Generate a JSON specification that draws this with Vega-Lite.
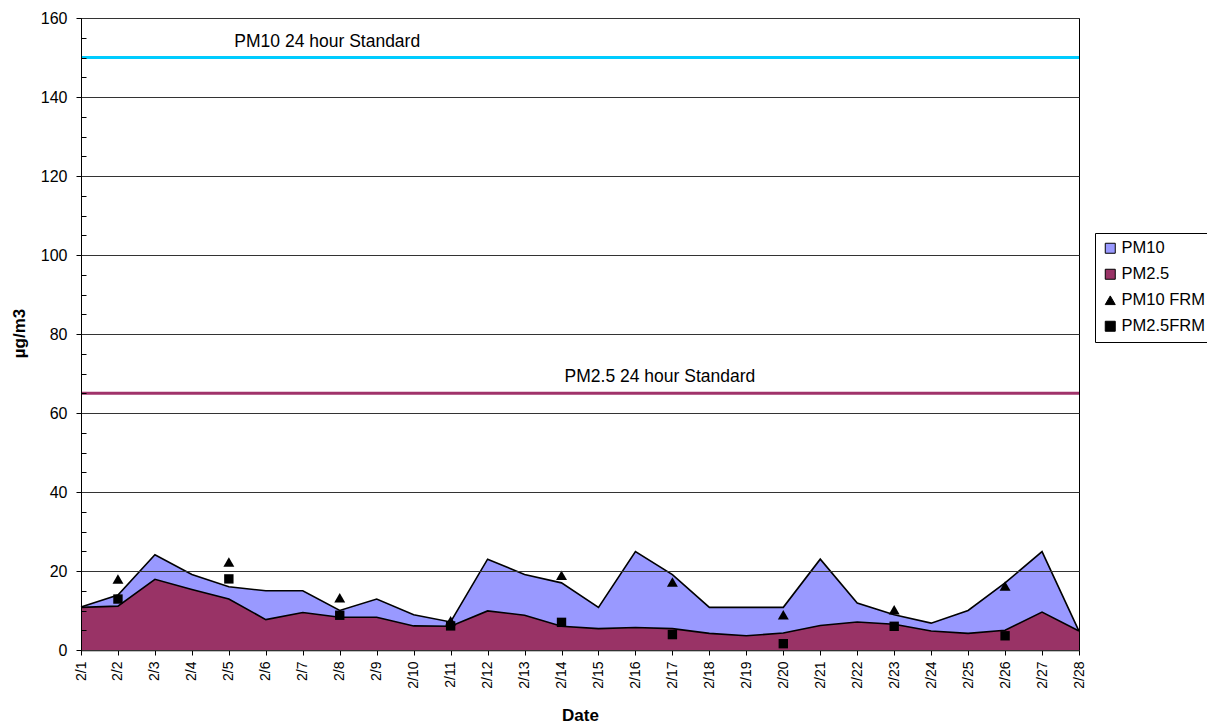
{
  "$schema": "https://vega.github.io/schema/vega-lite/v6.json",
  "width": 998,
  "height": 632,
  "autosize": "none",
  "padding": {"left": 81, "top": 18, "right": 128, "bottom": 73},
  "background": "white",
  "config": {
    "font": "Liberation Sans",
    "view": {"stroke": "black", "strokeWidth": 1},
    "axis": {"labelColor": "black", "titleColor": "black", "tickColor": "black", "domainColor": "black", "labelFont": "Liberation Sans", "titleFont": "Liberation Sans"},
    "legend": {
      "orient": "none", "legendX": 1014, "legendY": 215, "padding": 7,
      "strokeColor": "black", "fillColor": "white", "labelFontSize": 16.5,
      "labelFont": "Liberation Sans", "labelColor": "black", "rowPadding": 9,
      "symbolStrokeColor": "black", "symbolStrokeWidth": 1, "labelOffset": 3,
      "symbolSize": 100, "labelLimit": 200
    }
  },
  "datasets": {
    "daily": [
      {"date": "2/1", "series": "PM10", "value": 10.9}, {"date": "2/2", "series": "PM10", "value": 13.9},
      {"date": "2/3", "series": "PM10", "value": 24.1}, {"date": "2/4", "series": "PM10", "value": 19.1},
      {"date": "2/5", "series": "PM10", "value": 16.0}, {"date": "2/6", "series": "PM10", "value": 15.0},
      {"date": "2/7", "series": "PM10", "value": 15.0}, {"date": "2/8", "series": "PM10", "value": 10.0},
      {"date": "2/9", "series": "PM10", "value": 12.9}, {"date": "2/10", "series": "PM10", "value": 8.9},
      {"date": "2/11", "series": "PM10", "value": 7.1}, {"date": "2/12", "series": "PM10", "value": 23.0},
      {"date": "2/13", "series": "PM10", "value": 19.1}, {"date": "2/14", "series": "PM10", "value": 17.0},
      {"date": "2/15", "series": "PM10", "value": 10.8}, {"date": "2/16", "series": "PM10", "value": 24.9},
      {"date": "2/17", "series": "PM10", "value": 19.1}, {"date": "2/18", "series": "PM10", "value": 10.8},
      {"date": "2/19", "series": "PM10", "value": 10.8}, {"date": "2/20", "series": "PM10", "value": 10.8},
      {"date": "2/21", "series": "PM10", "value": 23.0}, {"date": "2/22", "series": "PM10", "value": 11.9},
      {"date": "2/23", "series": "PM10", "value": 8.9}, {"date": "2/24", "series": "PM10", "value": 6.8},
      {"date": "2/25", "series": "PM10", "value": 10.0}, {"date": "2/26", "series": "PM10", "value": 17.0},
      {"date": "2/27", "series": "PM10", "value": 24.9}, {"date": "2/28", "series": "PM10", "value": 4.8},
      {"date": "2/1", "series": "PM2.5", "value": 10.8}, {"date": "2/2", "series": "PM2.5", "value": 11.1},
      {"date": "2/3", "series": "PM2.5", "value": 17.9}, {"date": "2/4", "series": "PM2.5", "value": 15.3},
      {"date": "2/5", "series": "PM2.5", "value": 12.9}, {"date": "2/6", "series": "PM2.5", "value": 7.7},
      {"date": "2/7", "series": "PM2.5", "value": 9.5}, {"date": "2/8", "series": "PM2.5", "value": 8.3},
      {"date": "2/9", "series": "PM2.5", "value": 8.3}, {"date": "2/10", "series": "PM2.5", "value": 6.1},
      {"date": "2/11", "series": "PM2.5", "value": 6.0}, {"date": "2/12", "series": "PM2.5", "value": 9.9},
      {"date": "2/13", "series": "PM2.5", "value": 8.8}, {"date": "2/14", "series": "PM2.5", "value": 6.0},
      {"date": "2/15", "series": "PM2.5", "value": 5.4}, {"date": "2/16", "series": "PM2.5", "value": 5.7},
      {"date": "2/17", "series": "PM2.5", "value": 5.4}, {"date": "2/18", "series": "PM2.5", "value": 4.2},
      {"date": "2/19", "series": "PM2.5", "value": 3.6}, {"date": "2/20", "series": "PM2.5", "value": 4.3},
      {"date": "2/21", "series": "PM2.5", "value": 6.2}, {"date": "2/22", "series": "PM2.5", "value": 7.1},
      {"date": "2/23", "series": "PM2.5", "value": 6.5}, {"date": "2/24", "series": "PM2.5", "value": 4.8},
      {"date": "2/25", "series": "PM2.5", "value": 4.2}, {"date": "2/26", "series": "PM2.5", "value": 5.0},
      {"date": "2/27", "series": "PM2.5", "value": 9.6}, {"date": "2/28", "series": "PM2.5", "value": 4.8}
    ],
    "frm10": [
      {"date": "2/2", "series": "PM10 FRM", "value": 18.0}, {"date": "2/5", "series": "PM10 FRM", "value": 22.3},
      {"date": "2/8", "series": "PM10 FRM", "value": 13.2}, {"date": "2/11", "series": "PM10 FRM", "value": 7.4},
      {"date": "2/14", "series": "PM10 FRM", "value": 18.9}, {"date": "2/17", "series": "PM10 FRM", "value": 17.2},
      {"date": "2/20", "series": "PM10 FRM", "value": 8.9}, {"date": "2/23", "series": "PM10 FRM", "value": 10.2},
      {"date": "2/26", "series": "PM10 FRM", "value": 16.2}
    ],
    "frm25": [
      {"date": "2/2", "series": "PM2.5FRM", "value": 12.9}, {"date": "2/5", "series": "PM2.5FRM", "value": 18.0},
      {"date": "2/8", "series": "PM2.5FRM", "value": 8.8}, {"date": "2/11", "series": "PM2.5FRM", "value": 6.1},
      {"date": "2/14", "series": "PM2.5FRM", "value": 7.0}, {"date": "2/17", "series": "PM2.5FRM", "value": 3.9},
      {"date": "2/20", "series": "PM2.5FRM", "value": 1.6}, {"date": "2/23", "series": "PM2.5FRM", "value": 6.0},
      {"date": "2/26", "series": "PM2.5FRM", "value": 3.6}
    ],
    "standards": [
      {"label": "PM10 24 hour Standard", "value": 150, "labelDate": "2/8"},
      {"label": "PM2.5 24 hour Standard", "value": 65, "labelDate": "2/17"}
    ]
  },
  "resolve": {"axis": {"y": "independent"}},
  "layer": [
    {
      "data": {"name": "daily"},
      "transform": [{"filter": "datum.series == 'PM10'"}],
      "mark": {"type": "area", "opacity": 1},
      "encoding": {
        "x": {
          "field": "date", "type": "ordinal",
          "scale": {"type": "point", "padding": 0, "domain": ["2/1","2/2","2/3","2/4","2/5","2/6","2/7","2/8","2/9","2/10","2/11","2/12","2/13","2/14","2/15","2/16","2/17","2/18","2/19","2/20","2/21","2/22","2/23","2/24","2/25","2/26","2/27","2/28"]},
          "axis": {
            "labelAngle": 270, "labelFontSize": 14, "labelOverlap": false,
            "labelPadding": 6, "tickSize": 5,
            "grid": false, "domainWidth": 1.5,
            "title": "Date", "titleFontSize": 17, "titleFontWeight": "bold",
            "titleY": 70, "titleBaseline": "alphabetic"
          }
        },
        "y": {
          "field": "value", "type": "quantitative",
          "scale": {"domain": [0, 160], "nice": false},
          "axis": {
            "orient": "left",
            "values": [0, 20, 40, 60, 80, 100, 120, 140, 160],
            "labelFontSize": 16, "labelPadding": 9, "tickSize": 5,
            "grid": true, "gridColor": "#333333", "gridOpacity": 1, "gridWidth": 1,
            "zindex": 1,
            "title": "µg/m3", "titleFontSize": 17, "titleFontWeight": "bold",
            "titleAngle": -90, "titleX": -62, "titleY": 315,
            "titleAlign": "center", "titleBaseline": "middle"
          }
        },
        "color": {
          "field": "series", "type": "nominal",
          "scale": {"domain": ["PM10", "PM2.5", "PM10 FRM", "PM2.5FRM"], "range": ["#9999FF", "#993366", "#000000", "#000000"]},
          "legend": {
            "title": null,
            "encode": {"symbols": {"update": {"size": {"signal": "datum.value == 'PM10 FRM' ? 70 : datum.value == 'PM2.5FRM' ? 50 : 100"}}}}
          }
        }
      }
    },
    {
      "data": {"name": "daily"},
      "transform": [{"filter": "datum.series == 'PM10'"}],
      "mark": {"type": "line", "color": "black", "strokeWidth": 1.6},
      "encoding": {
        "x": {"field": "date", "type": "ordinal"},
        "y": {"field": "value", "type": "quantitative", "axis": null}
      }
    },
    {
      "data": {"name": "daily"},
      "transform": [{"filter": "datum.series == 'PM2.5'"}],
      "mark": {"type": "area", "opacity": 1},
      "encoding": {
        "x": {"field": "date", "type": "ordinal"},
        "y": {
          "field": "value", "type": "quantitative",
          "axis": {
            "orient": "left",
            "values": [5,10,15,25,30,35,45,50,55,65,70,75,85,90,95,105,110,115,125,130,135,145,150,155],
            "labels": false, "domain": false, "grid": false, "title": null,
            "tickSize": -5, "zindex": 1
          }
        },
        "color": {"field": "series", "type": "nominal"}
      }
    },
    {
      "data": {"name": "daily"},
      "transform": [{"filter": "datum.series == 'PM2.5'"}],
      "mark": {"type": "line", "color": "black", "strokeWidth": 1.6},
      "encoding": {
        "x": {"field": "date", "type": "ordinal"},
        "y": {"field": "value", "type": "quantitative", "axis": null}
      }
    },
    {
      "data": {"name": "standards"},
      "mark": {"type": "rule", "strokeWidth": 3},
      "encoding": {
        "y": {"field": "value", "type": "quantitative", "axis": null},
        "stroke": {"field": "label", "type": "nominal", "scale": {"domain": ["PM10 24 hour Standard", "PM2.5 24 hour Standard"], "range": ["#00CCFF", "#A0336A"]}, "legend": null}
      }
    },
    {
      "data": {"name": "standards"},
      "mark": {"type": "text", "fontSize": 17.5, "align": "center", "baseline": "alphabetic", "dy": -11, "dx": -12.5, "color": "black", "font": "Liberation Sans"},
      "encoding": {
        "x": {"field": "labelDate", "type": "ordinal"},
        "y": {"field": "value", "type": "quantitative", "axis": null},
        "text": {"field": "label"}
      }
    },
    {
      "data": {"name": "frm10"},
      "mark": {"type": "point", "filled": true, "opacity": 1, "size": 120},
      "encoding": {
        "x": {"field": "date", "type": "ordinal"},
        "y": {"field": "value", "type": "quantitative", "axis": null},
        "color": {"field": "series", "type": "nominal"},
        "shape": {
          "field": "series", "type": "nominal",
          "scale": {"domain": ["PM10", "PM2.5", "PM10 FRM", "PM2.5FRM"], "range": ["square", "square", "triangle-up", "square"]},
          "legend": {"title": null}
        }
      }
    },
    {
      "data": {"name": "frm25"},
      "mark": {"type": "point", "filled": true, "opacity": 1, "size": 88},
      "encoding": {
        "x": {"field": "date", "type": "ordinal"},
        "y": {"field": "value", "type": "quantitative", "axis": null},
        "color": {"field": "series", "type": "nominal"},
        "shape": {"field": "series", "type": "nominal"}
      }
    }
  ]
}
